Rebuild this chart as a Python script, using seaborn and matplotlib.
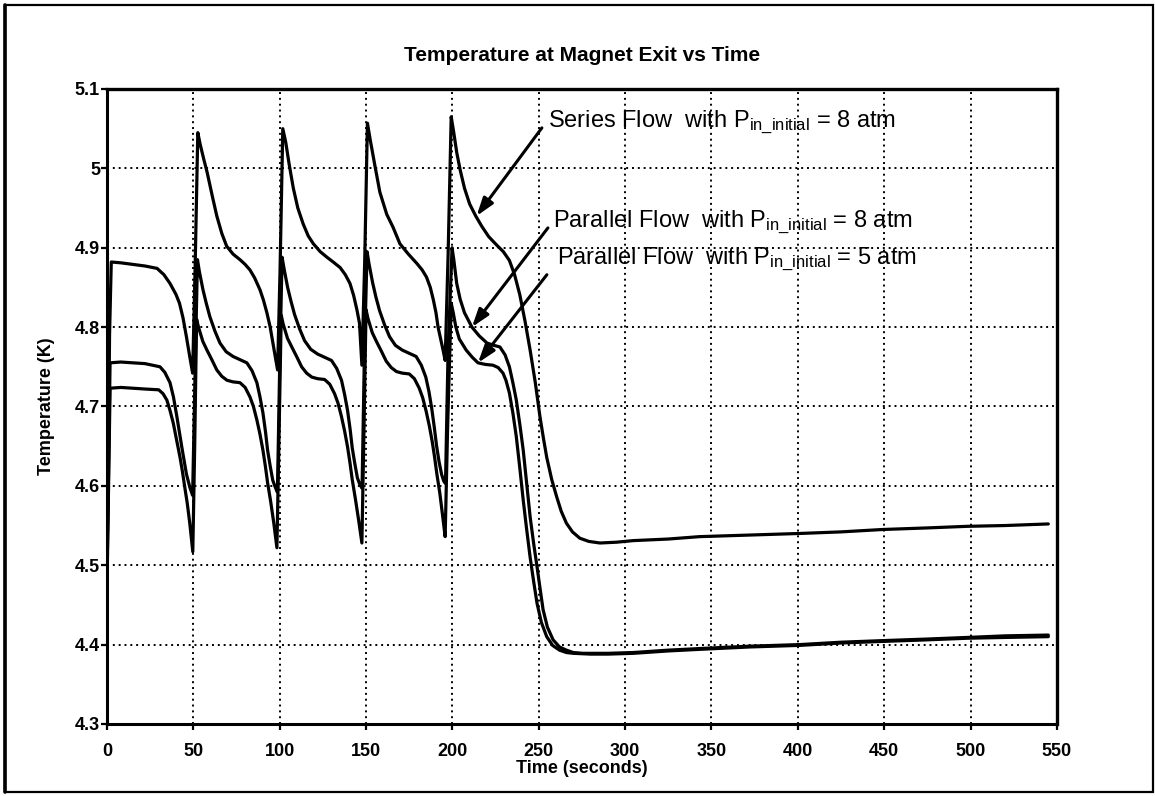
import matplotlib
matplotlib.use("Agg")
import matplotlib.pyplot as plt
from matplotlib.patches import Rectangle
from matplotlib.lines import Line2D
import seaborn as sns
import pandas as pd

# ---- data: magnet exit temperature (K) versus time (s) ----
series_t = [0, 0.8, 1.5, 2.5, 8, 15, 22, 29, 33, 36.5, 40, 42, 44, 46, 48, 49.6,
            51, 52.6, 54, 56, 58, 61, 63.6, 66.5, 69.3, 73, 77, 80, 82.8, 85.5, 88.6, 90.6,
            92.6, 94.5, 96, 97.5, 98.8,
            100.2, 101.8, 103.5, 105.5, 107.9, 110.5, 113.6, 116.5, 119.5, 123.5, 127.4, 131,
            135, 138, 140.7, 142.8, 144.7, 146.2, 147.6,
            149.2, 150.8, 152.5, 155, 158, 162, 165.6, 169.6, 174.5, 179.5, 182.5, 185, 187.2,
            189, 190.5, 191.7, 193.2, 194.6, 195.8,
            197.5, 199.3, 200.8, 202.5, 204.5, 207, 210, 213.5, 217, 221, 225.8, 229.5, 233,
            236, 239, 242, 245, 248, 250.7, 252.7, 254.6, 257.5, 260.4, 263, 266, 269.5,
            273.8, 279, 285.4, 295, 304.7, 325, 343, 372, 401, 425, 449, 475, 498, 520, 545]
series_T = [4.50, 4.62, 4.79, 4.882, 4.881, 4.879, 4.877, 4.874, 4.866, 4.855, 4.841, 4.830,
            4.812, 4.788, 4.762, 4.742,
            4.87, 5.045, 5.030, 5.012, 4.995, 4.965, 4.940, 4.918, 4.902, 4.892, 4.885, 4.879,
            4.872, 4.862, 4.847, 4.834, 4.818, 4.800, 4.781, 4.762, 4.746,
            4.87, 5.050, 5.033, 5.005, 4.975, 4.950, 4.930, 4.915, 4.905, 4.895, 4.888, 4.882,
            4.875, 4.866, 4.855, 4.840, 4.822, 4.805, 4.752,
            4.88, 5.057, 5.035, 5.005, 4.970, 4.942, 4.926, 4.905, 4.892, 4.880, 4.872, 4.863,
            4.850, 4.834, 4.818, 4.800, 4.785, 4.771, 4.758,
            4.89, 5.065, 5.045, 5.020, 4.998, 4.975, 4.955, 4.940, 4.927, 4.914, 4.903, 4.895,
            4.884, 4.866, 4.841, 4.808, 4.771, 4.730, 4.687, 4.660, 4.636, 4.608, 4.586,
            4.568, 4.553, 4.542, 4.534, 4.530, 4.528, 4.529, 4.531, 4.533, 4.536, 4.538,
            4.540, 4.542, 4.545, 4.547, 4.549, 4.550, 4.552]

par8_t = [0, 0.8, 1.8, 8, 15, 22, 30.7, 33.5, 36.5, 38.5, 40.5, 43.4, 46, 48, 49.6,
          51, 52.4, 53.5, 55.6, 57.5, 59.6, 62.5, 65.4, 69, 73, 77, 81, 84, 86.8, 88.6, 90.3,
          91.8, 93, 94.5, 96, 97.5, 98.7,
          100, 101.4, 102.5, 104.6, 106.5, 108.6, 111.5, 114.4, 118, 122, 126, 130, 133, 135.8,
          137.6, 139.3, 140.8, 142, 143.5, 145, 146.5, 147.7,
          149, 150.6, 151.7, 153.8, 155.7, 157.8, 160.7, 163.6, 167, 171, 175, 179, 182, 184.6,
          186.4, 188, 189.5, 190.8, 192.3, 193.8, 195, 196,
          197.5, 199.8, 200.8, 202.5, 204.5, 207, 211.3, 215.5, 220, 224, 227.5, 230.5, 233,
          235, 237, 239, 241, 243, 245, 247, 249, 250.8, 252.5, 255, 258.3, 262, 266, 270,
          275.6, 290, 304.7, 325, 343, 372, 401, 425, 449, 475, 498, 520, 545]
par8_T = [4.48, 4.60, 4.755, 4.756, 4.755, 4.754, 4.750, 4.743, 4.730, 4.712, 4.687, 4.648,
          4.615, 4.598, 4.588,
          4.74, 4.885, 4.870, 4.847, 4.830, 4.813, 4.795, 4.780, 4.769, 4.763, 4.759, 4.755,
          4.745, 4.730, 4.712, 4.692, 4.668, 4.645, 4.625, 4.607, 4.598, 4.592,
          4.75, 4.888, 4.874, 4.850, 4.833, 4.816, 4.798, 4.783, 4.772, 4.766, 4.762, 4.758,
          4.748, 4.733, 4.715, 4.695, 4.671, 4.648, 4.628, 4.610, 4.601, 4.597,
          4.76, 4.895, 4.880, 4.856, 4.838, 4.821, 4.803, 4.788, 4.777, 4.771, 4.767, 4.763,
          4.752, 4.737, 4.719, 4.698, 4.674, 4.651, 4.630, 4.614, 4.606, 4.603,
          4.77, 4.900, 4.885, 4.855, 4.835, 4.818, 4.800, 4.789, 4.780, 4.777, 4.775, 4.765,
          4.750, 4.730, 4.708, 4.678, 4.645, 4.603, 4.561, 4.528, 4.498, 4.470, 4.444,
          4.422, 4.406, 4.397, 4.393, 4.390, 4.389, 4.389, 4.390, 4.393, 4.395, 4.398,
          4.400, 4.403, 4.405, 4.407, 4.409, 4.411, 4.412]

par5_t = [0, 0.8, 1.8, 8, 15, 22, 30, 32.5, 34.7, 36.5, 38.4, 40.3, 42.3, 43.7, 45, 46.5, 48,
          49.7,
          50.8, 51.9, 53, 55.5, 57.9, 60.7, 63.6, 66.5, 69.5, 73, 77, 80, 82.8, 84.8, 86.8, 88.6,
          90.3, 91.7, 93, 94.8, 96.6, 98.4,
          99.6, 100.9, 102, 104.5, 107, 109.8, 112.7, 115.6, 118.6, 122, 126, 129, 131.8, 133.8,
          135.8, 137.6, 139.3, 140.7, 142, 143.8, 145.7, 147.6,
          148.8, 150, 151.1, 153.6, 156, 158.8, 161.7, 164.6, 167.6, 171, 175, 178, 180.8,
          182.8, 184.8, 186.6, 188.3, 189.7, 191, 192.7, 194.3, 195.8,
          197.3, 199.3, 200.5, 202, 204, 208, 211.5, 214.8, 219, 223.5, 226.5, 229.3, 231, 233,
          235, 237, 239, 241, 243, 245, 247, 249, 251.5, 254.6, 258, 262, 266, 270, 280, 290,
          304.7, 325, 343, 372, 401, 425, 449, 475, 498, 520, 545]
par5_T = [4.47, 4.58, 4.723, 4.724, 4.723, 4.722, 4.721, 4.716, 4.708, 4.695, 4.679, 4.658,
          4.636, 4.618, 4.599, 4.578, 4.552, 4.517,
          4.65, 4.810, 4.800, 4.782, 4.771, 4.759, 4.746, 4.738, 4.733, 4.731, 4.730, 4.724,
          4.712, 4.700, 4.683, 4.665, 4.645, 4.625, 4.604, 4.580, 4.553, 4.522,
          4.66, 4.815, 4.804, 4.786, 4.775, 4.763, 4.750, 4.742, 4.737, 4.735, 4.734, 4.728,
          4.716, 4.704, 4.687, 4.669, 4.649, 4.629, 4.608, 4.584, 4.557, 4.528,
          4.67, 4.822, 4.811, 4.793, 4.782, 4.770, 4.757, 4.749, 4.744, 4.742, 4.741, 4.735,
          4.723, 4.711, 4.694, 4.676, 4.656, 4.636, 4.615, 4.591, 4.563, 4.536,
          4.68, 4.830, 4.818, 4.800, 4.785, 4.771, 4.762, 4.755, 4.753, 4.752, 4.749, 4.742,
          4.733, 4.717, 4.692, 4.662, 4.623, 4.582, 4.545, 4.510, 4.480, 4.452, 4.428,
          4.410, 4.399, 4.393, 4.390, 4.389, 4.388, 4.388, 4.389, 4.392, 4.394, 4.397,
          4.399, 4.402, 4.404, 4.406, 4.408, 4.409, 4.410]

flow_names = ["Series 8 atm", "Parallel 8 atm", "Parallel 5 atm"]

x_ticks = [0, 50, 100, 150, 200, 250, 300, 350, 400, 450, 500, 550]
y_ticks = [4.3, 4.4, 4.5, 4.6, 4.7, 4.8, 4.9, 5.0, 5.1]
y_tick_labels = ["4.3", "4.4", "4.5", "4.6", "4.7", "4.8", "4.9", "5", "5.1"]

# callout labels: (text, text anchor (t, T), arrow tip (t, T), arrow tail (t, T))
sub = r"$_{\mathrm{in\_initial}}$"
callouts = [
    ("Series Flow  with P" + sub + " = 8 atm", (255.3, 5.058), (214.0, 4.940), (251.8, 5.051)),
    ("Parallel Flow  with P" + sub + " = 8 atm", (258.2, 4.932), (211.3, 4.800), (255.3, 4.925)),
    ("Parallel Flow  with P" + sub + " = 5 atm", (260.5, 4.886), (214.8, 4.755), (254.7, 4.866)),
]

df = pd.concat([
    pd.DataFrame({"time": series_t, "temp": series_T, "flow": flow_names[0]}),
    pd.DataFrame({"time": par8_t, "temp": par8_T, "flow": flow_names[1]}),
    pd.DataFrame({"time": par5_t, "temp": par5_T, "flow": flow_names[2]}),
], ignore_index=True)

# ---- style ----
sns.set_theme(style="white")
plt.rcParams["font.family"] = ["Liberation Sans", "DejaVu Sans"]
plt.rcParams["text.color"] = "black"
plt.rcParams["axes.labelcolor"] = "black"
plt.rcParams["xtick.color"] = "black"
plt.rcParams["ytick.color"] = "black"
plt.rcParams["mathtext.fontset"] = "custom"
plt.rcParams["mathtext.rm"] = "Liberation Sans"
plt.rcParams["mathtext.it"] = "Liberation Sans:italic"
plt.rcParams["mathtext.bf"] = "Liberation Sans:bold"

fig = plt.figure(figsize=(11.55, 7.96), dpi=100)
fig.patch.set_facecolor("white")
ax = fig.add_axes([0.0926, 0.0905, 0.8225, 0.7977])

sns.lineplot(data=df, x="time", y="temp", hue="flow", units="flow", estimator=None,
             sort=False, palette={n: "black" for n in flow_names}, linewidth=2.3,
             legend=False, ax=ax)

ax.set_xlim(0, 550)
ax.set_ylim(4.3, 5.1)
ax.set_xticks(x_ticks)
ax.set_xticklabels([str(v) for v in x_ticks])
ax.set_yticks(y_ticks)
ax.set_yticklabels(y_tick_labels)

ax.grid(True, color="black", linestyle=(0, (1, 2)), linewidth=1.4)
ax.set_axisbelow(True)

for side in ("left", "bottom"):
    ax.spines[side].set_color("black")
    ax.spines[side].set_linewidth(2.2)
for side in ("top", "right"):
    ax.spines[side].set_color("black")
    ax.spines[side].set_linewidth(2.4)
    ax.spines[side].set_linestyle((0, (1, 1)))

ax.tick_params(axis="both", direction="out", length=4, width=1.6, color="black",
               labelsize=13, labelcolor="black")
ax.tick_params(axis="x", pad=10, bottom=True)
ax.tick_params(axis="y", pad=1, left=True)
for lab in ax.get_xticklabels() + ax.get_yticklabels():
    lab.set_fontweight("bold")

ax.set_title("Temperature at Magnet Exit vs Time", fontsize=15, fontweight="bold",
             color="black", pad=20)
ax.set_xlabel("Time (seconds)", fontsize=13, fontweight="bold", color="black", labelpad=0)
ax.set_ylabel("Temperature (K)", fontsize=13, fontweight="bold", color="black", labelpad=14)

for text, (tx, ty), (hx, hy), (sx, sy) in callouts:
    ax.text(tx, ty, text, fontsize=17, ha="left", va="center", color="black")
    ax.annotate("", xy=(hx, hy), xytext=(sx, sy),
                arrowprops=dict(arrowstyle="-|>,head_length=0.9,head_width=0.3",
                                color="black", lw=2.2, shrinkA=0, shrinkB=0))

# outer frame around the whole chart
fig.add_artist(Rectangle((0.0043, 0.005), 0.9937, 0.9887, transform=fig.transFigure,
                         fill=False, edgecolor="black", linewidth=1.6))
fig.add_artist(Line2D([0.0043, 0.0043], [0.005, 0.9937], transform=fig.transFigure,
                      color="black", linewidth=2.6))

fig.savefig("out.png", dpi=100, facecolor="white")
